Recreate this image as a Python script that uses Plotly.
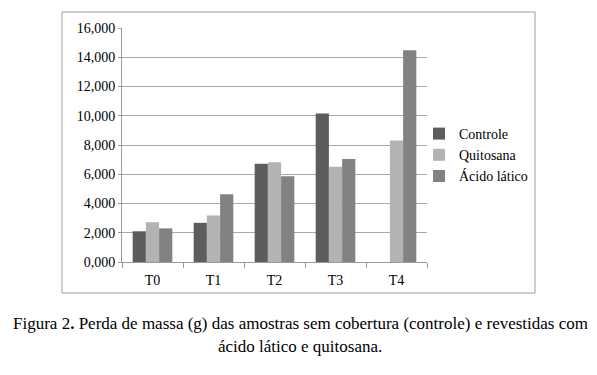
import plotly.graph_objects as go

categories = ["T0", "T1", "T2", "T3", "T4"]
controle = [2.10, 2.68, 6.72, 10.15, None]
quitosana = [2.72, 3.18, 6.82, 6.52, 8.30]
acido_latico = [2.30, 4.63, 5.86, 7.05, 14.48]
y_ticks = [0, 2, 4, 6, 8, 10, 12, 14, 16]

FONT = "Liberation Serif"
OFF = 8  # page body margin

fig = go.Figure()
fig.add_trace(go.Bar(name="Controle", x=categories, y=controle, marker_color="#5d5d5d",
                     marker_line_width=0))
fig.add_trace(go.Bar(name="Quitosana", x=categories, y=quitosana, marker_color="#b3b3b3",
                     marker_line_width=0))
fig.add_trace(go.Bar(name="Ácido lático", x=categories, y=acido_latico, marker_color="#828282",
                     marker_line_width=0))

W, H = 597 - OFF, 375 - OFF
L, R, T, B = 122 - OFF, 427 - OFF, 28 - OFF, 262 - OFF
pw, ph = R - L, B - T

def px(x):
    return (x - OFF - L) / pw

def py(y):
    return (B - (y - OFF)) / ph

fig.update_layout(
    width=W, height=H,
    margin=dict(l=L, r=W - R, t=T, b=H - B, pad=0),
    paper_bgcolor="white", plot_bgcolor="white",
    barmode="group", bargap=0.35, bargroupgap=0,
    separators=",.",
    font=dict(family=FONT, size=14, color="black"),
    showlegend=True,
    legend=dict(x=px(419), y=py(118), xanchor="left", yanchor="top",
                font=dict(family=FONT, size=14, color="black"),
                itemwidth=30, tracegroupgap=0, bgcolor="rgba(0,0,0,0)",
                traceorder="normal"),
    xaxis=dict(showline=True, linecolor="#9a9a9a", linewidth=1,
               ticks="outside", tickson="boundaries", ticklen=5, tickcolor="#9a9a9a",
               ticklabelstandoff=5,
               tickfont=dict(family=FONT, size=14), showgrid=False),
    yaxis=dict(range=[0, 16], tickvals=y_ticks, tickformat=".3f",
               showline=True, linecolor="#9a9a9a", linewidth=1,
               ticks="outside", ticklen=3, tickcolor="#9a9a9a",
               showgrid=True, gridcolor="#a8a8a8", gridwidth=1,
               zeroline=False, tickfont=dict(family=FONT, size=14)),
    shapes=[dict(type="rect", xref="paper", yref="paper",
                 x0=px(62), x1=px(535), y0=py(293), y1=py(12),
                 line=dict(color="#a0a0a0", width=1), fillcolor="rgba(0,0,0,0)", layer="below")],
    annotations=[
        dict(text="Figura 2<b>.</b> Perda de massa (g) das amostras sem cobertura (controle) e revestidas com",
             xref="paper", yref="paper", x=px(300), y=py(323), xanchor="center", yanchor="middle",
             showarrow=False, font=dict(family=FONT, size=17, color="black")),
        dict(text="ácido lático e quitosana.",
             xref="paper", yref="paper", x=px(300), y=py(346), xanchor="center", yanchor="middle",
             showarrow=False, font=dict(family=FONT, size=17, color="black")),
    ],
)

fig.write_html("out.html")
